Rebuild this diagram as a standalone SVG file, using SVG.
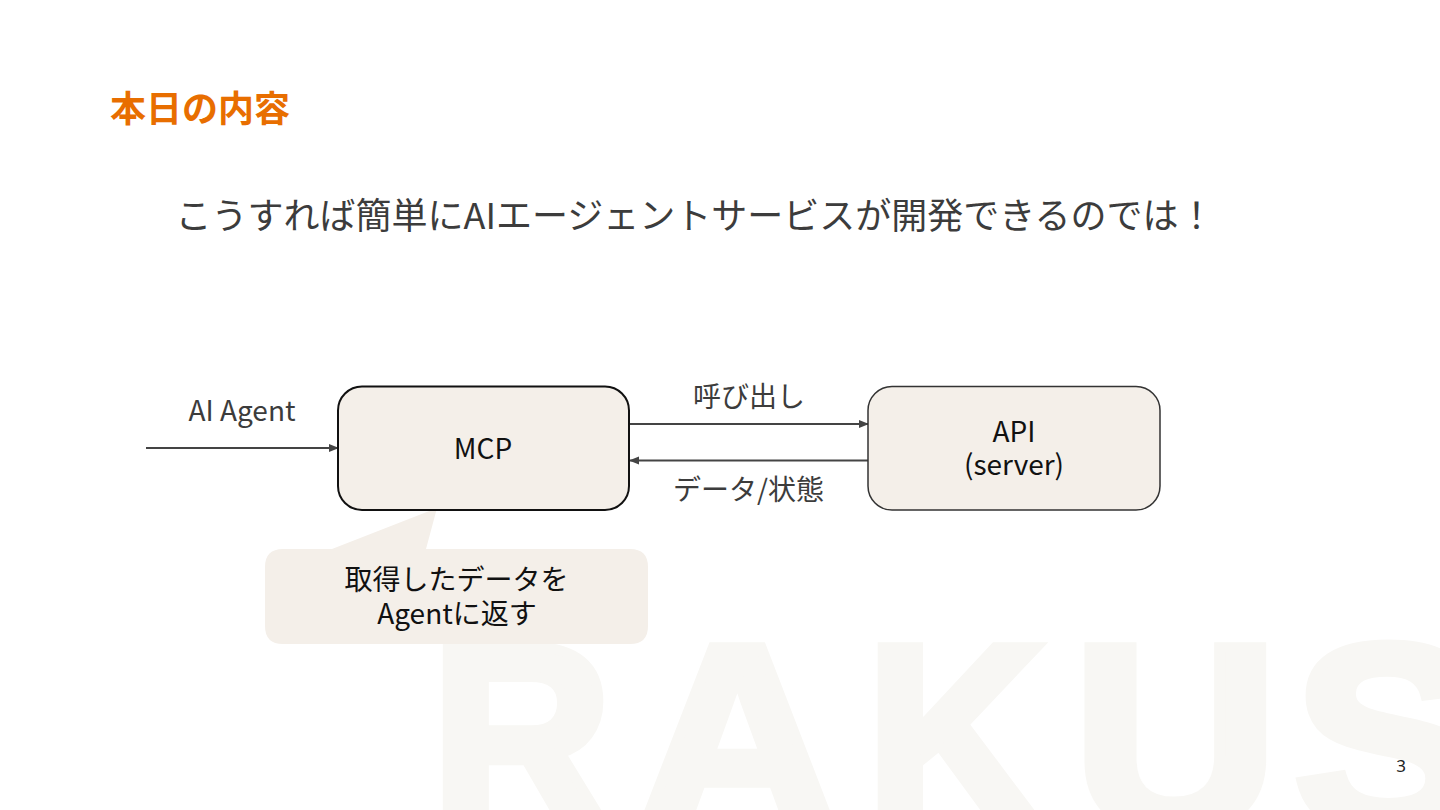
<svg xmlns="http://www.w3.org/2000/svg" width="1440" height="810" viewBox="0 0 1440 810">
<defs>
<style>
text{font-family:"Noto Sans CJK JP","Noto Sans",sans-serif;}
.wm{font-family:"Liberation Sans",sans-serif;font-weight:700;font-size:330px;fill:#f8f7f4;stroke:#f8f7f4;stroke-width:13px;stroke-linejoin:miter;}
.box{fill:#f4efe9;}
.lab{font-size:28px;fill:#3c3c3c;text-anchor:middle;}
.nt{font-size:28px;fill:#111;text-anchor:middle;}
.c{stroke:#444;stroke-width:2;fill:none;}
</style>
<marker id="ah" markerUnits="userSpaceOnUse" markerWidth="12" markerHeight="10" refX="10" refY="4" orient="auto"><path d="M0 0L10 4L0 8Z" fill="#444"/></marker>
</defs>
<rect width="1440" height="810" fill="#fff"/>
<g id="watermark">
<text class="wm" transform="translate(431 829) scale(.76 .8)">R</text>
<text class="wm" transform="translate(636 829) scale(.85 .8)">A</text>
<text class="wm" transform="translate(866 829) scale(.75 .8)">K</text>
<text class="wm" transform="translate(1073 829) scale(.86 .8)">U</text>
<text class="wm" transform="translate(1294 829) scale(.85 .8)">S</text>
</g>
<text id="title" x="110" y="122" font-size="36" font-weight="700" fill="#e86e00">本日の内容</text>
<text id="subtitle" x="175.500" y="229" font-size="36" fill="#3c3c3c">こうすれば簡単にAIエージェントサービスが開発できるのでは！</text>
<g id="connectors">
<path class="c" marker-end="url(#ah)" d="M146 448H339"/>
<path class="c" marker-end="url(#ah)" d="M629 424H869"/>
<path class="c" marker-end="url(#ah)" d="M868 460.500H629"/>
</g>
<g id="callout">
<path d="M332 549L437 508L426 549H630Q648 549 648 567V626Q648 644 630 644H283Q265 644 265 626V567Q265 549 283 549Z" fill="#f4efe9"/>
<text class="nt" x="456.500" y="590">取得したデータを</text>
<text class="nt" x="457" y="624">Agentに返す</text>
</g>
<g id="mcp">
<rect class="box" x="338" y="386.500" width="291" height="123.500" rx="24" stroke="#111" stroke-width="2"/>
<text class="nt" x="483" y="459">MCP</text>
</g>
<g id="api">
<rect class="box" x="868" y="386.500" width="292" height="123.500" rx="24" stroke="#333" stroke-width="1.500"/>
<text class="nt" x="1014" y="442">API</text>
<text class="nt" x="1014" y="475">(server)</text>
</g>
<text id="l-agent" class="lab" x="242" y="421">AI Agent</text>
<text id="l-call" class="lab" x="749" y="407">呼び出し</text>
<text id="l-data" class="lab" x="748.500" y="500">データ/状態</text>
<text id="page" x="1401" y="772" font-size="17" fill="#222" text-anchor="middle" style="font-family:'Noto Sans',sans-serif">3</text>
</svg>
